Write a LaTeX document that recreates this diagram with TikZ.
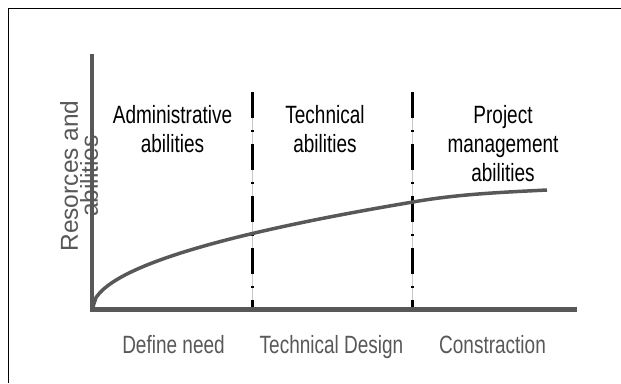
\documentclass[tikz,border=0pt]{standalone}
\usepackage{fontspec}
\setmainfont{Liberation Sans}
\newfontfamily\narrowfont[FakeStretch=0.76]{Liberation Sans}
\definecolor{axisgray}{HTML}{585858}

\begin{document}
\begin{tikzpicture}[x=1pt,y=-1pt,
  lbl/.style={font=\narrowfont\fontsize{25}{29}\selectfont, align=center, inner sep=0},
  phase/.style={lbl, text=axisgray, anchor=base}]
  \useasboundingbox (0,0) rectangle (621,383);
  \def\ox{92} \def\oy{309.5} % origin of the axes

  % frame
  \draw[line width=1pt] (8,383) -- (8,8) -- (621,8);

  % phase borders
  \foreach \x in {252,412}{
    \draw[gray!45, line width=0.8pt] (\x,92) -- (\x,\oy);
    \draw[line width=3pt, dash pattern=on 26pt off 12pt on 2pt off 12pt] (\x,92) -- (\x,\oy);}

  % axes and curve
  \coordinate (o) at (\ox,\oy);
  \coordinate (ytop) at (\ox,54);
  \coordinate (xend) at (577,\oy);
  \coordinate (cend) at (547,190);
  \draw[axisgray, line width=4.5pt] (ytop) -- (o) -- (xend);
  \draw[axisgray, line width=3.5pt] plot[domain=0:320, samples=80] ({\ox+\x},{\oy-6*sqrt(\x)})
    .. controls (457,194.1) and (502,192.3) .. (cend);

  \node[rotate=90, font=\fontsize{24.5}{20}\selectfont, text=axisgray, align=center, inner sep=0]
    (ylab) at (79,176) {Resorces and\\abilities};

  % abilities per phase
  \node[lbl, anchor=north] (admin) at (172.5,105) {Administrative\\abilities};
  \node[lbl, anchor=north] (tech) at (325,105) {Technical\\abilities};
  \node[lbl, anchor=north] (pm) at (503,105) {Project\\management\\abilities};

  % phases
  \node[phase] (need) at (173.5,353) {Define need};
  \node[phase] (design) at (331.5,353) {Technical Design};
  \node[phase] (constr) at (492.5,353) {Constraction};
\end{tikzpicture}
\end{document}
